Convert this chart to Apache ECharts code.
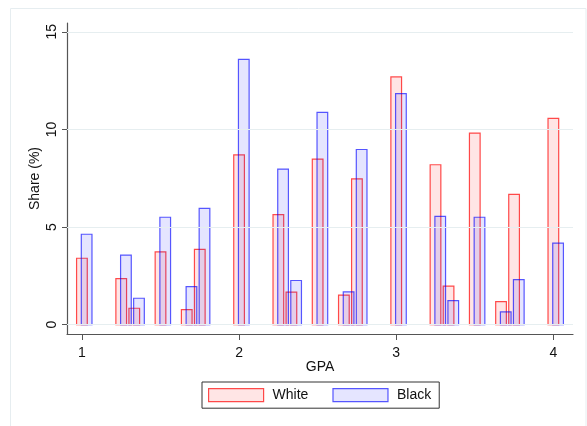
<!DOCTYPE html>
<html>
<head>
<meta charset="utf-8" />
<title>GPA share</title>
<script src="https://cdn.jsdelivr.net/npm/echarts@6/dist/echarts.min.js"></script>
<style>
  html, body { margin: 0; padding: 0; background: #fff; }
  #chart { width: 587px; height: 426px; }
</style>
</head>
<body>
<div id="chart"></div>
<script>
// GPA values where each pair of bars sits
var gpa = [1.0, 1.25, 1.333, 1.5, 1.667, 1.75, 2.0, 2.25, 2.333, 2.5, 2.667, 2.75, 3.0, 3.25, 3.333, 3.5, 3.667, 3.75, 4.0];
// share (%) per group
var white = [3.4, 2.36, 0.84, 3.73, 0.77, 3.85, 8.69, 5.63, 1.66, 8.48, 1.51, 7.47, 12.69, 8.19, 1.97, 9.81, 1.18, 6.67, 10.56];
var black = [4.63, 3.56, 1.35, 5.5, 1.95, 5.95, 13.59, 7.97, 2.26, 10.87, 1.68, 8.97, 11.83, 5.54, 1.23, 5.5, 0.65, 2.31, 4.17];
var xTicks = [1, 2, 3, 4];
var yTicks = [0, 5, 10, 15];

var barW = 0.068;     // bar width in GPA units
var blackShift = 0.03; // black bars drawn a little to the right

var whiteFill = 'rgba(255,0,0,0.1)', whiteLine = 'rgba(255,0,0,0.7)';
var blackFill = 'rgba(0,0,255,0.1)', blackLine = 'rgba(0,0,255,0.65)';
var font = 'Liberation Sans, Arial, Helvetica, sans-serif';

function pairs(vals) {
  var out = [];
  for (var i = 0; i < gpa.length; i++) out.push([gpa[i], vals[i]]);
  return out;
}

function barRenderer(shift, fill, line) {
  return function (params, api) {
    var x = api.value(0) + shift, y = api.value(1);
    var p0 = api.coord([x - barW / 2, y]);
    var p1 = api.coord([x + barW / 2, 0]);
    return {
      type: 'rect',
      shape: { x: p0[0], y: p0[1], width: p1[0] - p0[0], height: p1[1] - p0[1] },
      style: { fill: fill, stroke: line, lineWidth: 1.2 }
    };
  };
}

var chart = echarts.init(document.getElementById('chart'));
chart.setOption({
  animation: false,
  textStyle: { fontFamily: font },
  graphic: [{
    type: 'rect', silent: true, z: -1,
    shape: { x: 10.5, y: 8.5, width: 575.5, height: 430 },
    style: { fill: 'none', stroke: '#e6edf0', lineWidth: 1 }
  }],
  grid: { left: 67, right: 14, top: 23, bottom: 92 },
  xAxis: {
    type: 'value', min: 0.905, max: 4.125,
    name: 'GPA', nameLocation: 'middle', nameGap: 26, nameMoveOverlap: false,
    nameTextStyle: { fontSize: 14, color: '#111', fontFamily: font },
    axisLine: { show: true, onZero: false, lineStyle: { color: '#555', width: 1.2 } },
    axisTick: { show: true, customValues: xTicks, length: 6, lineStyle: { color: '#555' } },
    axisLabel: { customValues: xTicks, margin: 12, fontSize: 14, color: '#111', fontFamily: font },
    splitLine: { show: false }
  },
  yAxis: {
    type: 'value', min: -0.48, max: 15.45,
    name: 'Share (%)', nameLocation: 'middle', nameGap: 25, nameMoveOverlap: false,
    nameTextStyle: { fontSize: 14, color: '#111', fontFamily: font },
    axisLine: { show: true, onZero: false, lineStyle: { color: '#555', width: 1.2 } },
    axisTick: { show: true, customValues: yTicks, length: 5, lineStyle: { color: '#555' } },
    axisLabel: { customValues: yTicks, rotate: 90, margin: 8, fontSize: 14, color: '#111', fontFamily: font },
    splitLine: { show: false }
  },
  legend: {
    left: 202, top: 382,
    padding: [6, 8, 6, 6],
    borderColor: '#333', borderWidth: 1,
    itemWidth: 55, itemHeight: 13, itemGap: 24,
    textStyle: { fontSize: 14, color: '#111', fontFamily: font, padding: [0, 0, 0, 4] },
    data: [
      { name: 'White', icon: 'rect', itemStyle: { color: whiteFill, borderColor: whiteLine, borderWidth: 1.2 } },
      { name: 'Black', icon: 'rect', itemStyle: { color: blackFill, borderColor: blackLine, borderWidth: 1.2 } }
    ]
  },
  series: [
    {
      name: 'grid', type: 'line', data: [], z: 0, silent: true,
      markLine: {
        silent: true, symbol: 'none', label: { show: false },
        lineStyle: { color: '#e6eef0', width: 1, type: 'solid' },
        data: yTicks.map(function (v) { return { yAxis: v }; })
      }
    },
    {
      name: 'White', type: 'custom', z: 2,
      itemStyle: { color: whiteFill, borderColor: whiteLine },
      renderItem: barRenderer(0, whiteFill, whiteLine),
      data: pairs(white)
    },
    {
      name: 'Black', type: 'custom', z: 3,
      itemStyle: { color: blackFill, borderColor: blackLine },
      renderItem: barRenderer(blackShift, blackFill, blackLine),
      data: pairs(black)
    }
  ]
});
</script>
</body>
</html>
